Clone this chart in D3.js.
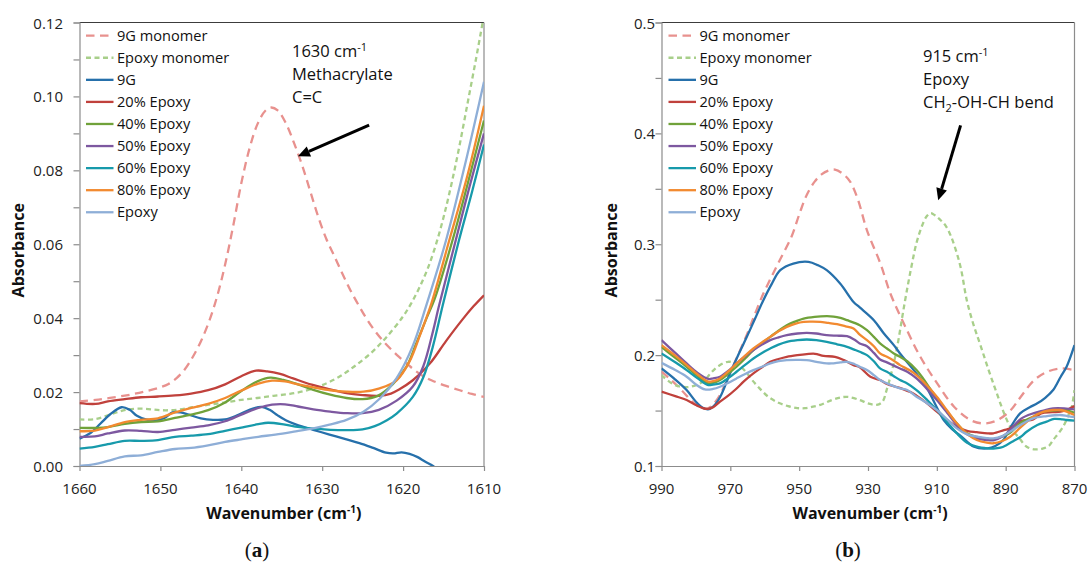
<!DOCTYPE html>
<html>
<head>
<meta charset="utf-8">
<script src="https://cdn.jsdelivr.net/npm/d3@7"></script>
<style>
  body { margin: 0; background: #fff; }
  svg { display: block; }
</style>
</head>
<body>
<svg id="chart" width="1089" height="564"></svg>
<script>
// ---------- Series names (legend order = drawing order) ----------
const seriesNames = ["9G monomer", "Epoxy monomer", "9G", "20% Epoxy", "40% Epoxy",
                     "50% Epoxy", "60% Epoxy", "80% Epoxy", "Epoxy"];

// ---------- Panel (a): 1660–1610 cm-1, [wavenumber, absorbance] ----------
const monomer9G_a = [[1660,.0175],[1658,.0179],[1656,.0185],[1654,.0192],[1652,.0201],[1650,.0213],[1649,.0222],[1648,.0238],[1647,.0261],[1646,.0295],[1645,.0337],[1644,.0390],[1643,.0458],[1642,.0545],[1641,.0650],[1640,.0765],[1639,.0858],[1638,.0925],[1637,.0962],[1636.3,.0970],[1635.5,.0962],[1634.5,.0928],[1633.5,.0875],[1632.5,.0815],[1631.5,.0745],[1630.5,.0675],[1629.5,.0615],[1628.5,.0568],[1627.5,.0520],[1626.5,.0475],[1625.5,.0435],[1624.5,.0398],[1623.5,.0366],[1622.5,.0339],[1621.5,.0316],[1620.5,.0295],[1619.5,.0276],[1618.5,.0258],[1617.5,.0243],[1616.5,.0232],[1615,.0219],[1613,.0205],[1611.5,.0195],[1610,.0187]];
const epoxyMonomer_a = [[1660,.0126],[1658,.0127],[1656,.0141],[1654,.0153],[1652,.0155],[1650,.0151],[1648,.0152],[1646,.0159],[1644,.0166],[1642,.0172],[1640,.0179],[1638,.0184],[1636,.0190],[1634,.0195],[1632,.0204],[1630,.0219],[1628,.0240],[1626,.0270],[1624,.0305],[1622,.0350],[1620,.0405],[1619,.0440],[1618,.0482],[1617,.0532],[1616,.0595],[1615,.0673],[1614,.0765],[1613,.0870],[1612,.0985],[1611,.1100],[1610,.1220]];
const poly9G_a = [[1660,.0074],[1658.6,.0090],[1657.4,.0115],[1656.2,.0140],[1654.8,.0159],[1653.8,.0152],[1652.9,.0136],[1651.8,.0126],[1650.6,.0123],[1649.5,.0130],[1648.5,.0145],[1647.5,.0145],[1646.5,.0139],[1645,.0129],[1643.5,.0125],[1642,.0126],[1640.5,.0137],[1639,.0152],[1637.5,.0160],[1636.5,.0152],[1635.5,.0137],[1634.5,.0124],[1633.2,.0112],[1631.1,.0098],[1629.1,.0085],[1627,.0072],[1625.4,.0062],[1623.7,.0049],[1622.1,.0036],[1621.2,.0034],[1620.2,.0037],[1619.2,.0033],[1618.2,.0024],[1617.3,.0012],[1616.3,.0000],[1615.5,-.0015],[1614.5,-.0040],[1612,-.0070],[1610,-.0080]];
const epoxy20_a = [[1660,.0170],[1658,.0168],[1656.5,.0175],[1654.4,.0181],[1652.4,.0186],[1650.3,.0188],[1648.2,.0191],[1646.2,.0196],[1644.1,.0205],[1642,.0221],[1640,.0243],[1638.2,.0258],[1636.8,.0256],[1635.2,.0249],[1633.6,.0237],[1631.3,.0220],[1629.2,.0208],[1627,.0197],[1625,.0192],[1623,.0190],[1621.5,.0196],[1620.5,.0207],[1618.8,.0232],[1616.7,.0277],[1614.7,.0338],[1612.6,.0398],[1611.3,.0432],[1610,.0462]];
const epoxy40_a = [[1660,.0103],[1658,.0103],[1656.5,.0105],[1654.4,.0114],[1652.4,.0119],[1650.3,.0121],[1648.2,.0130],[1646.2,.0139],[1644.1,.0151],[1642,.0172],[1640,.0203],[1638,.0229],[1636.4,.0239],[1634.8,.0233],[1633,.0221],[1631.1,.0206],[1629,.0193],[1627,.0184],[1625,.0181],[1623.2,.0189],[1621.3,.0221],[1619.6,.0268],[1618.4,.0330],[1617.1,.0400],[1616.1,.0452],[1613.9,.0610],[1612,.0765],[1610,.0935]];
const epoxy50_a = [[1660,.0079],[1658.1,.0080],[1656.5,.0088],[1654.4,.0096],[1652.4,.0095],[1650.3,.0092],[1648.2,.0098],[1646.2,.0104],[1644.1,.0110],[1642,.0121],[1640,.0139],[1637.9,.0157],[1636.2,.0166],[1634.6,.0167],[1633,.0161],[1631.1,.0153],[1629,.0147],[1627,.0143],[1625,.0143],[1623,.0152],[1620.8,.0177],[1618.8,.0215],[1617.5,.0270],[1616.3,.0365],[1615.6,.0430],[1613.5,.0610],[1611.8,.0755],[1610,.0900]];
const epoxy60_a = [[1660,.0047],[1658.1,.0052],[1656.5,.0059],[1654.4,.0068],[1652.4,.0068],[1650.3,.0070],[1648.2,.0079],[1646.2,.0082],[1644.1,.0086],[1642,.0095],[1640,.0104],[1637.9,.0113],[1636.7,.0117],[1634.6,.0112],[1633,.0106],[1631.1,.0101],[1629,.0098],[1627,.0097],[1625,.0099],[1623.5,.0108],[1622,.0124],[1620.8,.0142],[1618.8,.0187],[1617.5,.0240],[1616.3,.0325],[1615.1,.0435],[1613.1,.0610],[1611.5,.0740],[1610,.0870]];
const epoxy80_a = [[1660,.0094],[1658.1,.0096],[1656.5,.0105],[1654.4,.0119],[1652.4,.0125],[1650.3,.0129],[1648.2,.0145],[1646.2,.0157],[1644.1,.0168],[1642,.0184],[1640,.0204],[1637.9,.0223],[1636.2,.0231],[1634.6,.0229],[1633,.0221],[1631.1,.0213],[1629,.0205],[1627,.0201],[1624.9,.0201],[1622.9,.0210],[1620.8,.0232],[1619.2,.0283],[1617.9,.0355],[1616.5,.0440],[1614.3,.0610],[1612,.0790],[1610,.0975]];
const epoxy100_a = [[1660,.0000],[1658.1,.0005],[1656.5,.0014],[1654.4,.0026],[1652.4,.0029],[1650.3,.0038],[1648.2,.0046],[1646.2,.0049],[1644.1,.0056],[1642,.0065],[1640,.0072],[1637.9,.0079],[1635.8,.0085],[1633.5,.0093],[1631.1,.0102],[1629.1,.0112],[1627,.0125],[1624.9,.0147],[1622.9,.0182],[1620.8,.0238],[1618.8,.0325],[1617.2,.0430],[1614.7,.0610],[1612.3,.0820],[1610,.1040]];

// ---------- Panel (b): 990–870 cm-1 ----------
const monomer9G_b = [[990,.185],[987,.177],[984.2,.1685],[981,.158],[978.5,.1525],[976.5,.152],[975,.1555],[973,.164],[970.5,.1815],[968,.1985],[965.2,.2185],[962.8,.2375],[960.4,.2555],[958,.271],[955.5,.2865],[952.2,.307],[949.8,.3285],[947.8,.3445],[945.5,.3565],[943.5,.3630],[941.5,.3665],[939.6,.3673],[937.5,.3640],[935.3,.3570],[933,.3410],[930.3,.3126],[926.4,.2826],[923.5,.2556],[919.6,.2285],[914.8,.1985],[909.9,.1745],[905,.1535],[900.2,.1414],[896.3,.1384],[892.4,.1414],[888.5,.1505],[885.6,.1625],[881.7,.1775],[877.9,.1850],[874,.1880],[870,.1865]];
const epoxyMonomer_b = [[990,.182],[986.1,.173],[982.3,.1712],[979.5,.1735],[977.4,.1775],[975.5,.1845],[973.5,.1900],[970.6,.1940],[967.7,.1910],[965.5,.1850],[963.8,.1780],[961.5,.1700],[959,.1625],[956,.1570],[953.2,.1540],[950.5,.1522],[948.3,.1522],[946,.1535],[943.5,.1555],[940.5,.1595],[937.7,.1620],[935.5,.1622],[932.4,.1595],[930,.1565],[927.5,.1552],[925.8,.1580],[924.6,.1685],[923.2,.1840],[921.7,.2045],[919.3,.2480],[917.5,.2780],[916,.3000],[914.5,.3150],[913,.3250],[911.8,.3280],[910.5,.3260],[909,.3220],[907.5,.3170],[906,.3080],[904.5,.2950],[903,.2780],[901.3,.2496],[899.5,.2290],[897.5,.2105],[893.6,.1745],[888.7,.1355],[886,.1250],[883.9,.1174],[881.5,.1150],[879.5,.1155],[877.5,.1180],[876.2,.1234],[873.3,.1355],[871.5,.1480],[870.8,.1534],[870,.1685]];
const poly9G_b = [[990,.188],[986,.178],[982.7,.1685],[980,.1580],[978,.1525],[976.5,.1510],[975,.1535],[973,.1620],[970.1,.1835],[967.5,.2015],[965.2,.2165],[962.8,.2330],[960.4,.2495],[958,.2640],[955.5,.2766],[951.7,.2826],[947.3,.2841],[944.5,.2810],[942,.2766],[938.1,.2646],[934.2,.2480],[932.4,.2430],[928.3,.2315],[925.5,.2200],[922.5,.2090],[920.7,.2015],[916.7,.1865],[913,.1710],[910.5,.1560],[908,.1414],[905.5,.1330],[903,.1270],[899.2,.1174],[895.3,.1159],[893,.1180],[890.7,.1234],[888.5,.1354],[885.8,.1475],[883,.1530],[880.8,.1565],[878.5,.1615],[876.2,.1685],[874,.1805],[872.3,.1895],[870,.2090]];
const epoxy20_b = [[990,.167],[986,.1630],[982.7,.1595],[980,.1550],[978,.1522],[976.5,.1515],[975,.1530],[973,.1580],[970.8,.1630],[968.5,.1690],[966,.1765],[963.3,.1835],[960.8,.1890],[958.4,.1940],[956,.1965],[953.6,.1985],[950.5,.2000],[947.8,.2009],[945.4,.2012],[942.9,.1993],[939.6,.1985],[937,.1955],[934.2,.1910],[932.4,.1890],[929.3,.1805],[926.5,.1775],[924.5,.1740],[922,.1715],[920,.1695],[917.5,.1665],[915.9,.1635],[913,.1570],[910,.1490],[907,.1415],[904.2,.1355],[901,.1315],[898.4,.1305],[895.3,.1294],[893.6,.1295],[890.5,.1324],[888.7,.1340],[885.6,.1405],[882,.1420],[879.7,.1474],[876.5,.1485],[874,.1490],[872,.1510],[870,.1540]];
const epoxy40_b = [[990,.2075],[986,.1975],[982.7,.1895],[979.5,.1810],[976.4,.1745],[975,.1750],[973,.1775],[970.5,.1835],[968.2,.1895],[965.7,.1970],[963.3,.2045],[960.8,.2110],[958.4,.2165],[956,.2220],[953.6,.2270],[951,.2305],[948.7,.2330],[945.5,.2345],[942,.2351],[940,.2348],[938,.2335],[936.1,.2315],[932.4,.2270],[930.3,.2225],[928.3,.2165],[926.5,.2105],[924.5,.2060],[922.5,.2015],[920.7,.1985],[918.6,.1945],[915.9,.1865],[914,.1790],[912,.1700],[910,.1610],[907,.1490],[904.2,.1385],[901.5,.1300],[898.4,.1262],[895.5,.1245],[893.6,.1240],[890.7,.1270],[888.7,.1300],[885.6,.1390],[882,.1444],[879.7,.1485],[876.5,.1500],[874,.1505],[872,.1500],[870,.1480]];
const epoxy50_b = [[990,.2135],[986,.2020],[982.7,.1925],[979.5,.1840],[976.4,.1785],[975,.1790],[973,.1805],[970.5,.1860],[968.2,.1925],[965.7,.1990],[963.3,.2045],[960.8,.2095],[958.4,.2135],[956,.2160],[953.6,.2180],[950.5,.2195],[947.8,.2201],[945,.2195],[942,.2180],[939,.2175],[936.1,.2171],[934,.2140],[932.4,.2105],[930.3,.2080],[928.3,.2020],[926.5,.1960],[924.5,.1935],[922.5,.1905],[920.7,.1880],[918.6,.1850],[915.9,.1790],[913,.1700],[910,.1595],[907,.1480],[904.2,.1370],[901.5,.1290],[898.4,.1250],[895.5,.1234],[893.6,.1232],[890.7,.1270],[888.7,.1324],[885.6,.1425],[882,.1475],[879,.1500],[876.2,.1520],[873,.1520],[870,.1510]];
const epoxy60_b = [[990,.2015],[986,.1935],[982.7,.1865],[979.5,.1790],[976.4,.1730],[975,.1735],[973,.1745],[970.5,.1795],[968.2,.1850],[965.7,.1912],[963.3,.1970],[960.8,.2020],[958.4,.2060],[956,.2095],[953.6,.2120],[950.5,.2135],[947.8,.2141],[945,.2135],[942,.2120],[939,.2098],[936.1,.2075],[934,.2050],[932.4,.2030],[930.3,.2000],[928.3,.1945],[926.5,.1880],[924.5,.1850],[922.5,.1810],[920.7,.1775],[918.6,.1745],[915.9,.1685],[912.8,.1595],[910,.1505],[907,.1395],[904.2,.1295],[901.2,.1210],[898.4,.1174],[895.3,.1159],[893.6,.1157],[891.5,.1165],[889.7,.1190],[887.5,.1230],[885.6,.1264],[883.9,.1309],[880.8,.1370],[878.1,.1400],[875.9,.1425],[873.5,.1420],[872.3,.1415],[870,.1410]];
const epoxy80_b = [[990,.209],[986,.1995],[982.7,.1910],[979.5,.1825],[976.4,.1760],[975,.1765],[973,.1790],[970.5,.1855],[968.2,.1925],[965.7,.1995],[963.3,.2060],[960.8,.2115],[958.4,.2165],[956,.2215],[953.6,.2255],[951,.2285],[948.7,.2300],[946,.2302],[943.9,.2300],[941.5,.2290],[939,.2279],[936.5,.2260],[934.2,.2240],[932.4,.2185],[930.3,.2135],[928.3,.2080],[926.5,.2015],[924.5,.1985],[922.5,.1950],[920.7,.1910],[918,.1865],[915.9,.1820],[913,.1730],[910,.1625],[907,.1500],[904.2,.1385],[901,.1285],[898.4,.1234],[895.5,.1210],[893.6,.1205],[891,.1225],[888.7,.1264],[885.6,.1350],[882,.1444],[879,.1490],[876.2,.1505],[874,.1505],[872.3,.1490],[870,.1460]];
const epoxy100_b = [[990,.193],[986,.1865],[982.7,.1805],[980,.1735],[977.4,.1690],[975,.1695],[973,.1715],[970.5,.1752],[968.2,.1790],[965.7,.1830],[963.3,.1865],[960.8,.1895],[958.4,.1925],[956,.1945],[953.6,.1955],[950.5,.1957],[947.8,.1955],[945,.1940],[942,.1925],[940.6,.1925],[938,.1935],[936.1,.1940],[934,.1920],[932.4,.1895],[930.3,.1865],[928.3,.1820],[926.5,.1775],[924.5,.1745],[922.5,.1720],[920.7,.1700],[918.6,.1685],[915.9,.1625],[913,.1570],[910,.1505],[907,.1420],[904.2,.1340],[901.5,.1290],[898.4,.1264],[895.5,.1252],[893.6,.1250],[891,.1270],[888.7,.1310],[885.5,.1375],[882,.1430],[878,.1450],[874.2,.1460],[872,.1450],[870,.1440]];

// ---------- Tick values ----------
const xTicks_a = [1660, 1650, 1640, 1630, 1620, 1610];
const yTicks_a = [0, 0.02, 0.04, 0.06, 0.08, 0.10, 0.12];
const xTicks_b = [990, 970, 950, 930, 910, 890, 870];
const yTicks_b = [0.1, 0.2, 0.3, 0.4, 0.5];

// ---------- Styles ----------
const styles = [
  { color: "#e8918e", dash: "8.5,5.5" },
  { color: "#a8cf8a", dash: "5,3.5" },
  { color: "#2670ab", dash: null },
  { color: "#c0413c", dash: null },
  { color: "#70a23a", dash: null },
  { color: "#7d58a0", dash: null },
  { color: "#179aab", dash: null },
  { color: "#f28a30", dash: null },
  { color: "#8eaed7", dash: null }
];

const FONT = "'Open Sans', 'Noto Sans', sans-serif";
const svg = d3.select("#chart");

function drawPanel(cfg) {
  const { id, x, y, series, xTicks, yTicks, yMinor, yFmt, yLabelPad, legendX, titleX } = cfg;
  const [x0, x1] = x.range();
  const [y1, y0] = y.range();
  const g = svg.append("g");

  g.append("clipPath").attr("id", "clip-" + id)
    .append("rect").attr("x", x0).attr("y", y0).attr("width", x1 - x0).attr("height", y1 - y0);

  // frame: top and right edges
  g.append("line").attr("x1", x0).attr("x2", x1).attr("y1", y0).attr("y2", y0)
    .attr("stroke", "#3c3c3c").attr("stroke-width", 1);
  g.append("line").attr("x1", x1).attr("x2", x1).attr("y1", y0).attr("y2", y1)
    .attr("stroke", "#8c8c8c").attr("stroke-width", 1.2);

  // axes (ticks only, labels drawn separately)
  const yAxis = d3.axisLeft(y).tickValues(yMinor).tickSize(6).tickFormat("");
  g.append("g").attr("transform", `translate(${x0},0)`).call(yAxis)
    .call(s => s.selectAll("line,path").attr("stroke", "#8c8c8c").attr("stroke-width", 1.2));
  const xAxis = d3.axisBottom(x).tickValues(xTicks).tickSize(5).tickSizeOuter(0).tickFormat("");
  g.append("g").attr("transform", `translate(0,${y1})`).call(xAxis)
    .call(s => s.selectAll("line,path").attr("stroke", "#8c8c8c").attr("stroke-width", 1.2));

  // tick labels
  g.selectAll(".ylab").data(yTicks).join("text")
    .attr("x", x0 - yLabelPad).attr("y", d => y(d) + 6)
    .attr("text-anchor", "end").attr("font-family", FONT).attr("font-size", 15)
    .attr("fill", "#222").text(yFmt);
  g.selectAll(".xlab").data(xTicks).join("text")
    .attr("x", d => x(d)).attr("y", y1 + 28)
    .attr("text-anchor", "middle").attr("font-family", FONT).attr("font-size", 15)
    .attr("fill", "#222").text(d => d);

  // series
  const line = d3.line().x(d => x(d[0])).y(d => y(d[1])).curve(d3.curveCatmullRom.alpha(0.5));
  const lg = g.append("g").attr("clip-path", `url(#clip-${id})`);
  series.forEach((data, i) => {
    lg.append("path").datum(data).attr("d", line)
      .attr("fill", "none").attr("stroke", styles[i].color).attr("stroke-width", 2.3)
      .attr("stroke-dasharray", styles[i].dash).attr("stroke-linejoin", "round");
  });

  // legend
  const leg = g.append("g");
  seriesNames.forEach((name, i) => {
    const cy = 35.7 + i * 22.07;
    leg.append("line").attr("x1", legendX).attr("x2", legendX + 27.5).attr("y1", cy).attr("y2", cy)
      .attr("stroke", styles[i].color).attr("stroke-width", 2.3)
      .attr("stroke-dasharray", styles[i].dash);
    leg.append("text").attr("x", legendX + 31).attr("y", cy + 5)
      .attr("font-family", FONT).attr("font-size", 14.6).attr("fill", "#111").text(name);
  });

  // axis titles
  const xt = g.append("text").attr("x", (x0 + x1) / 2 + 2).attr("y", y1 + 53)
    .attr("text-anchor", "middle").attr("font-family", FONT).attr("font-size", 16)
    .attr("font-weight", "bold").attr("fill", "#111");
  xt.append("tspan").text("Wavenumber (cm");
  xt.append("tspan").attr("font-size", 10).attr("dy", -6).text("-1");
  xt.append("tspan").attr("dy", 6).text(")");

  g.append("text").attr("transform", `translate(${titleX},${(y0 + y1) / 2 + 6}) rotate(-90)`)
    .attr("text-anchor", "middle").attr("font-family", FONT).attr("font-size", 16)
    .attr("font-weight", "bold").attr("fill", "#111").text("Absorbance");

  return g;
}

function annotate(g, lines, tx, baselines, from, to) {
  lines.forEach((parts, i) => {
    const t = g.append("text").attr("x", tx).attr("y", baselines[i])
      .attr("font-family", FONT).attr("font-size", 16.5).attr("fill", "#111");
    parts.forEach(p => {
      const s = t.append("tspan").text(p.t);
      if (p.size) s.attr("font-size", p.size);
      if (p.dy) s.attr("dy", p.dy);
    });
  });
  // arrow shaft and head
  const ang = Math.atan2(to[1] - from[1], to[0] - from[0]);
  const L = 12, W = 5.5;
  const bx = to[0] - L * Math.cos(ang), by = to[1] - L * Math.sin(ang);
  g.append("line").attr("x1", from[0]).attr("y1", from[1]).attr("x2", bx).attr("y2", by)
    .attr("stroke", "#000").attr("stroke-width", 3);
  g.append("path").attr("d", d3.line()([
      to,
      [bx + W * Math.sin(ang), by - W * Math.cos(ang)],
      [bx - W * Math.sin(ang), by + W * Math.cos(ang)]
    ]) + "Z").attr("fill", "#000");
}

// ---------- Panel (a) ----------
const xA = d3.scaleLinear().domain([1660, 1610]).range([79.5, 484]);
const yA = d3.scaleLinear().domain([0, 0.12]).range([466, 22.5]);
const gA = drawPanel({
  id: "a", x: xA, y: yA,
  series: [monomer9G_a, epoxyMonomer_a, poly9G_a, epoxy20_a, epoxy40_a, epoxy50_a, epoxy60_a, epoxy80_a, epoxy100_a],
  xTicks: xTicks_a, yTicks: yTicks_a, yMinor: d3.range(0, 0.1201, 0.01),
  yFmt: d3.format(".2f"), yLabelPad: 16.5, legendX: 86, titleX: 24
});
annotate(gA,
  [[{ t: "1630 cm" }, { t: "-1", size: 11, dy: -6 }], [{ t: "Methacrylate" }], [{ t: "C=C" }]],
  292, [57.3, 80, 103.3],
  [xA(1624.2), yA(0.0922)], [xA(1633.0), yA(0.0838)]);

// ---------- Panel (b) ----------
const xB = d3.scaleLinear().domain([990, 870]).range([661.5, 1074.5]);
const yB = d3.scaleLinear().domain([0.1, 0.5]).range([466, 22.5]);
const gB = drawPanel({
  id: "b", x: xB, y: yB,
  series: [monomer9G_b, epoxyMonomer_b, poly9G_b, epoxy20_b, epoxy40_b, epoxy50_b, epoxy60_b, epoxy80_b, epoxy100_b],
  xTicks: xTicks_b, yTicks: yTicks_b, yMinor: d3.range(0.1, 0.5001, 0.05),
  yFmt: d3.format(".1f"), yLabelPad: 6.5, legendX: 668.5, titleX: 617
});
annotate(gB,
  [[{ t: "915 cm" }, { t: "-1", size: 11, dy: -6 }], [{ t: "Epoxy" }],
   [{ t: "CH" }, { t: "2", size: 11, dy: 4 }, { t: "-OH-CH bend", dy: -4 }]],
  923, [62.3, 85, 107.5],
  [xB(903.1), yB(0.4072)], [xB(909.6), yB(0.3396)]);

// ---------- Panel captions ----------
[["a", 257], ["b", 848]].forEach(([k, cx]) => {
  const t = svg.append("text").attr("x", cx).attr("y", 557).attr("text-anchor", "middle")
    .attr("font-family", "'Liberation Serif', 'DejaVu Serif', serif").attr("font-size", 21).attr("fill", "#111");
  t.append("tspan").text("(");
  t.append("tspan").attr("font-weight", "bold").text(k);
  t.append("tspan").text(")");
});
</script>
</body>
</html>
